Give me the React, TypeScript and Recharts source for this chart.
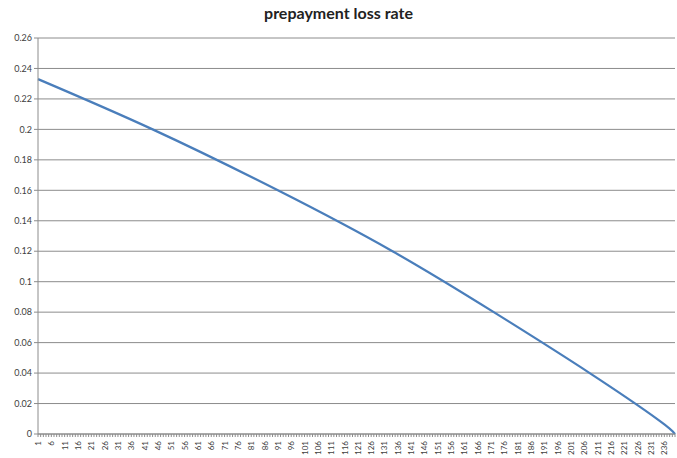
import { CartesianGrid, Line, LineChart, XAxis, YAxis } from 'recharts'

// payment period (1..240) and prepayment loss rate
const periods = Array.from({ length: 240 }, (_, i) => i + 1)
const samplePeriods = [1, 44, 91, 134, 172, 208, 234, 240]
const lossRates = [0.233, 0.2, 0.16, 0.12, 0.08, 0.04, 0.009, 0]
const yTicks = [0, 0.02, 0.04, 0.06, 0.08, 0.1, 0.12, 0.14, 0.16, 0.18, 0.2, 0.22, 0.24, 0.26]

const data = samplePeriods.map((p, i) => ({ period: p, rate: lossRates[i] }))

const font = 'Lato, "Open Sans", sans-serif'

function PeriodTick({ x, y, payload }: any) {
  const v = payload.value as number
  if ((v - 1) % 5 !== 0) return null
  return (
    <text
      transform={`translate(${x},${y + 2}) rotate(-90)`}
      textAnchor="end"
      dominantBaseline="central"
      fontSize={8}
      fontFamily={font}
      fill="#404040"
    >
      {v}
    </text>
  )
}

export default function App() {
  return (
    <div style={{ position: 'absolute', left: 0, top: 0, width: 677, height: 458, background: '#fff' }}>
      <div
        style={{
          position: 'absolute',
          top: 3,
          width: 677,
          textAlign: 'center',
          fontFamily: font,
          fontWeight: 700,
          fontSize: 16,
          color: '#222',
        }}
      >
        prepayment loss rate
      </div>
      <LineChart width={677} height={458} data={data} margin={{ top: 38, right: 2, left: 0, bottom: 0 }}>
        <CartesianGrid vertical={false} stroke="#8c8c8c" />
        <XAxis
          dataKey="period"
          type="number"
          domain={[1, 240]}
          ticks={periods}
          interval={0}
          height={24}
          tick={<PeriodTick />}
          tickSize={3}
          tickLine={{ stroke: '#8c8c8c' }}
          axisLine={{ stroke: '#8c8c8c' }}
        />
        <YAxis
          domain={[0, 0.26]}
          ticks={yTicks}
          width={38}
          tickSize={4}
          tickLine={{ stroke: '#8c8c8c' }}
          axisLine={{ stroke: '#8c8c8c' }}
          tickFormatter={(v: number) => String(Number(v.toFixed(2)))}
          tick={{ fontSize: 9, fontFamily: font, fill: '#404040' }}
        />
        <Line
          type="natural"
          dataKey="rate"
          stroke="#4a7ebb"
          strokeWidth={2.25}
          dot={false}
          isAnimationActive={false}
        />
      </LineChart>
    </div>
  )
}
